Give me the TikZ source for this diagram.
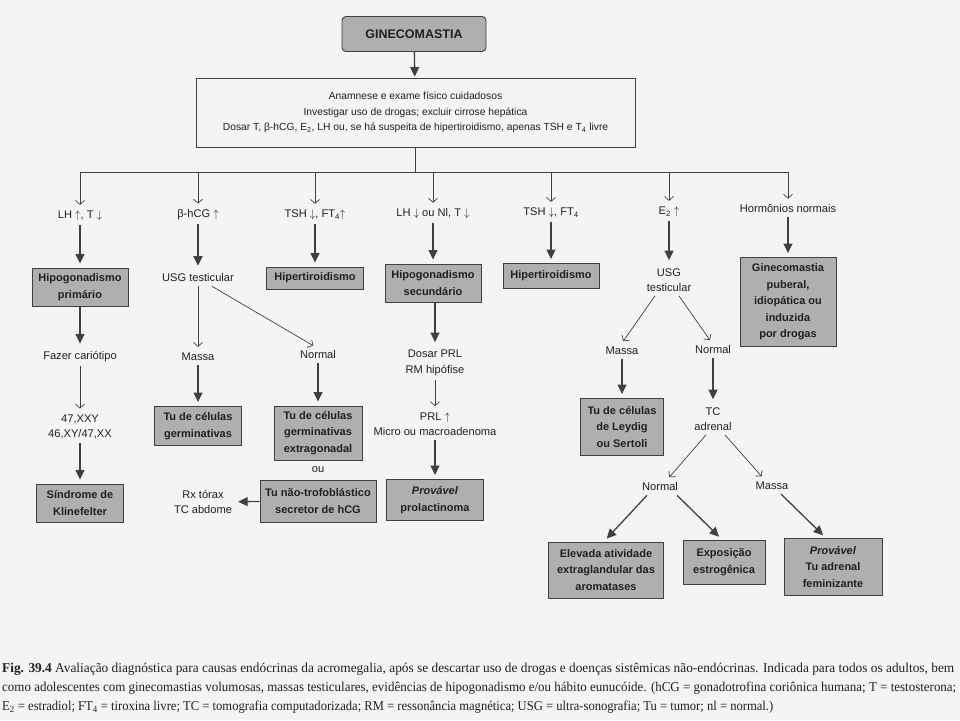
\documentclass[tikz,border=0pt]{standalone}
\usepackage{fontspec}
\usepackage{graphicx}
\setmainfont{Liberation Sans}
\newfontfamily\capfont{Liberation Serif}
\usetikzlibrary{arrows.meta}
\definecolor{paper}{RGB}{244,244,242}
\definecolor{boxgray}{RGB}{175,175,175}
\definecolor{edge}{RGB}{64,64,64}
\definecolor{ink}{RGB}{32,32,32}
\newcommand{\up}{\ensuremath{\uparrow}}
\newcommand{\dn}{\ensuremath{\downarrow}}
\tikzset{
  gb/.style={draw=edge, fill=boxgray, line width=0.9pt, align=center, text=ink, font=\bfseries\fontsize{11}{16.5}\selectfont, inner sep=2pt},
  tx/.style={align=center, text=ink, font=\fontsize{11.1}{15.5}\selectfont, inner xsep=2pt, inner ysep=4pt},
  ar/.style={draw=edge, line width=1.3pt, -{Triangle[length=9.5pt,width=9pt]}, shorten >=4pt},
  ta/.style={draw=edge, line width=0.7pt, -{Straight Barb[length=4pt,width=9pt]}, shorten >=2pt},
  ln/.style={draw=edge, line width=0.8pt},
  legend/.style={anchor=west, inner sep=0pt, text=ink, font=\capfont\fontsize{13.5}{15}\selectfont},
}

\begin{document}
\begin{tikzpicture}[x=1pt,y=-1pt]
  \useasboundingbox (0,0) rectangle (960,720);
  \fill[paper] (0,0) rectangle (960,720);

  % top
  \node[gb, rounded corners=4pt, minimum width=144, minimum height=35, font=\bfseries\fontsize{12.5}{14}\selectfont] (gin) at (414,34) {GINECOMASTIA};
  \node[draw=edge, line width=0.8pt, align=center, text=ink, font=\fontsize{10.3}{15.5}\selectfont, minimum width=439, minimum height=69] (main) at (415.5,112.5)
    {Anamnese e exame físico cuidadosos\\Investigar uso de drogas; excluir cirrose hepática\\Dosar T, β-hCG, E\textsubscript{2}, LH ou, se há suspeita de hipertiroidismo, apenas TSH e T\textsubscript{4} livre};
  \draw[ar, shorten >=1pt] (gin) -- (main);
  \coordinate (bus) at (415.5,172);

  % first results
  \node[tx] (lh1) at (80,216) {LH \up, T \dn};
  \node[tx] (hcg) at (198,215) {β-hCG \up};
  \node[tx] (tsh1) at (315,215) {TSH \dn, FT\textsubscript{4}\up};
  \node[tx] (lh2) at (433,214) {LH \dn{} ou Nl, T \dn};
  \node[tx] (tsh2) at (551,213) {TSH \dn, FT\textsubscript{4}};
  \node[tx] (e2) at (669,212) {E\textsubscript{2} \up};
  \node[tx] (horm) at (788,209) {Hormônios normais};
  \draw[ln] (main) -- (bus);
  \draw[ln] (lh1 |- bus) -- (horm |- bus);
  \foreach \n in {lh1,hcg,tsh1,lh2,tsh2,e2,horm}
    \draw[ta] (\n |- bus) -- (\n.north);

  % second row
  \node[gb, minimum width=96, minimum height=38] (hipo1) at (80,287) {Hipogonadismo\\primário};
  \node[tx] (usg1) at (198,278) {USG testicular};
  \node[gb, minimum width=97, minimum height=22] (hiper1) at (315,278) {Hipertiroidismo};
  \node[gb, minimum width=96, minimum height=38] (hipo2) at (433,283) {Hipogonadismo\\secundário};
  \node[gb, minimum width=96, minimum height=25] (hiper2) at (551,276) {Hipertiroidismo};
  \node[tx] (usg2) at (669,280) {USG\\testicular};
  \node[gb, minimum width=96, minimum height=89] (gpub) at (788,302) {Ginecomastia\\puberal,\\idiopática ou\\induzida\\por drogas};
  \draw[ar] (lh1) -- (hipo1);
  \draw[ar] (hcg) -- (usg1);
  \draw[ar] (tsh1) -- (hiper1);
  \draw[ar] (lh2) -- (hipo2);
  \draw[ar] (tsh2) -- (hiper2);
  \draw[ar] (e2) -- (usg2);
  \draw[ar] (horm) -- (gpub);

  % primary hypogonadism
  \node[tx] (cario) at (80,357) {Fazer cariótipo};
  \node[tx] (karyo) at (80,427) {47,XXY\\46,XY/47,XX};
  \node[gb, minimum width=87, minimum height=38] (kline) at (80,503) {Síndrome de\\Klinefelter};
  \draw[ar] (hipo1) -- (cario);
  \draw[ta] (cario) -- (karyo);
  \draw[ar] (karyo) -- (kline);

  % beta-hCG
  \node[tx] (massa1) at (198,357) {Massa};
  \node[tx] (norm1) at (318,355) {Normal};
  \node[gb, minimum width=87, minimum height=39] (tucg) at (198,426) {Tu de células\\germinativas};
  \node[gb, minimum width=88, minimum height=54] (tuext) at (318,433) {Tu de células\\germinativas\\extragonadal};
  \node[tx] (ou) at (318,470) {ou};
  \node[gb, minimum width=116, minimum height=42] (tunt) at (318,501) {Tu não-trofoblástico\\secretor de hCG};
  \node[tx] (rx) at (203,502) {Rx tórax\\TC abdome};
  \draw[ta] (usg1) -- (massa1);
  \draw[ta] ([xshift=14]usg1.south) -- ([xshift=-3]norm1.north);
  \draw[ar] (massa1) -- (tucg);
  \draw[ar] (norm1) -- (tuext);
  \draw[ar] (tunt) -- (rx);

  % secondary hypogonadism
  \node[tx] (prl) at (435,363) {Dosar PRL\\RM hipófise};
  \node[tx] (prlup) at (435,424) {PRL \up\\Micro ou macroadenoma};
  \node[gb, minimum width=97, minimum height=41] (prov1) at (435,500) {\textit{Provável}\\prolactinoma};
  \draw[ar] (hipo2.south -| prl) -- (prl);
  \draw[ta] (prl) -- (prlup);
  \draw[ar] (prlup) -- (prov1);

  % estradiol
  \node[tx] (massa2) at (622,351) {Massa};
  \node[tx] (norm2) at (713,350) {Normal};
  \node[gb, minimum width=83, minimum height=57] (leydig) at (622,427) {Tu de células\\de Leydig\\ou Sertoli};
  \node[tx] (tcad) at (713,419) {TC\\adrenal};
  \node[tx] (norm3) at (660,487) {Normal};
  \node[tx] (massa3) at (772,486) {Massa};
  \node[gb, minimum width=115, minimum height=56] (eleva) at (606,570) {Elevada atividade\\extraglandular das\\aromatases};
  \node[gb, minimum width=82, minimum height=44] (expo) at (724,562) {Exposição\\estrogênica};
  \node[gb, minimum width=98, minimum height=57] (prov2) at (833,567) {\textit{Provável}\\Tu adrenal\\feminizante};
  \draw[ta] ([xshift=-14]usg2.south) -- (massa2.north);
  \draw[ta] ([xshift=10]usg2.south) -- ([xshift=-2]norm2.north);
  \draw[ar] (massa2) -- (leydig);
  \draw[ar] (norm2) -- (tcad);
  \draw[ta] ([xshift=-7]tcad.south) -- ([xshift=8]norm3.north);
  \draw[ta] ([xshift=12]tcad.south) -- ([xshift=-9]massa3.north);
  \draw[ar] ([xshift=-13]norm3.south) -- ([xshift=-2]eleva.north);
  \draw[ar] ([xshift=17]norm3.south) -- ([xshift=-2]expo.north);
  \draw[ar] ([xshift=9]massa3.south) -- ([xshift=-7]prov2.north);

  % legend
  \node[legend] (cap1) at (2,669) {\resizebox{952pt}{\height}{\textbf{Fig. 39.4} Avaliação diagnóstica para causas endócrinas da acromegalia, após se descartar uso de drogas e doenças sistêmicas não-endócrinas. Indicada para todos os adultos, bem}};
  \node[legend] (cap2) at (2,688) {\resizebox{954pt}{\height}{como adolescentes com ginecomastias volumosas, massas testiculares, evidências de hipogonadismo e/ou hábito eunucóide. (hCG = gonadotrofina coriônica humana; T = testosterona;}};
  \node[legend] (cap3) at (2,707) {\resizebox{771pt}{\height}{E\textsubscript{2} = estradiol; FT\textsubscript{4} = tiroxina livre; TC = tomografia computadorizada; RM = ressonância magnética; USG = ultra-sonografia; Tu = tumor; nl = normal.)}};
\end{tikzpicture}
\end{document}
